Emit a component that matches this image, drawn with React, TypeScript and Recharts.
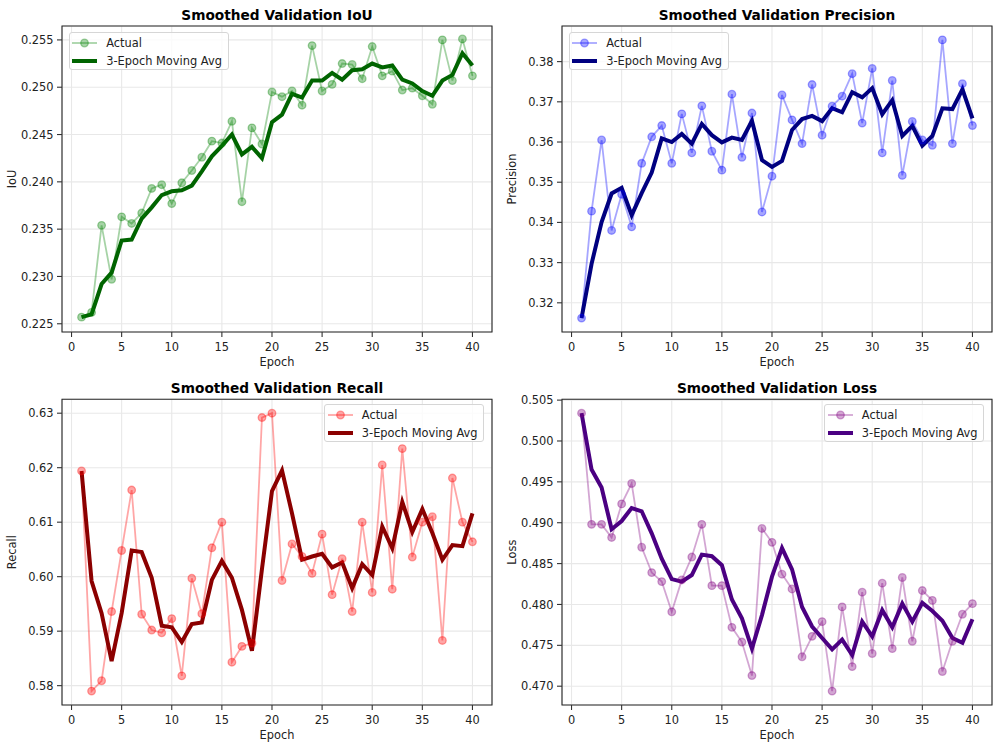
import React from "react";
import { LineChart, Line, XAxis, YAxis, CartesianGrid, ReferenceArea } from "recharts";

const epochs = [1, 2, 3, 4, 5, 6, 7, 8, 9, 10, 11, 12, 13, 14, 15, 16, 17, 18, 19, 20, 21, 22, 23, 24, 25, 26, 27, 28, 29, 30, 31, 32, 33, 34, 35, 36, 37, 38, 39, 40];
const xTicks = [0, 5, 10, 15, 20, 25, 30, 35, 40];

const iouActual = [0.2257, 0.2262, 0.2354, 0.2297, 0.2363, 0.2356, 0.2367, 0.2393, 0.2397, 0.2377, 0.2399, 0.2412, 0.2426, 0.2443, 0.2441, 0.2464, 0.2379, 0.2457, 0.2440, 0.2495, 0.2490, 0.2496, 0.2481, 0.2544, 0.2496, 0.2503, 0.2525, 0.2524, 0.2509, 0.2543, 0.2512, 0.2517, 0.2497, 0.2499, 0.2491, 0.2482, 0.2550, 0.2507, 0.2551, 0.2512];
const iouAvg = [0.2257, 0.2260, 0.2292, 0.2304, 0.2338, 0.2339, 0.2361, 0.2373, 0.2386, 0.2390, 0.2391, 0.2396, 0.2411, 0.2427, 0.2438, 0.2450, 0.2429, 0.2437, 0.2425, 0.2463, 0.2471, 0.2493, 0.2489, 0.2507, 0.2507, 0.2515, 0.2508, 0.2518, 0.2519, 0.2525, 0.2521, 0.2523, 0.2508, 0.2504, 0.2496, 0.2491, 0.2507, 0.2513, 0.2536, 0.2523];
const iouTicks = [0.225, 0.23, 0.235, 0.24, 0.245, 0.25, 0.255];

const precActual = [0.3162, 0.3428, 0.3605, 0.3380, 0.3470, 0.3389, 0.3547, 0.3613, 0.3641, 0.3547, 0.3670, 0.3573, 0.3690, 0.3577, 0.3530, 0.3719, 0.3562, 0.3672, 0.3426, 0.3515, 0.3717, 0.3655, 0.3596, 0.3743, 0.3617, 0.3689, 0.3714, 0.3770, 0.3647, 0.3783, 0.3573, 0.3753, 0.3517, 0.3651, 0.3605, 0.3592, 0.3854, 0.3596, 0.3745, 0.3641];
const precAvg = [0.3162, 0.3297, 0.3401, 0.3472, 0.3486, 0.3418, 0.3473, 0.3524, 0.3609, 0.3600, 0.3620, 0.3596, 0.3645, 0.3617, 0.3599, 0.3611, 0.3605, 0.3653, 0.3555, 0.3538, 0.3553, 0.3630, 0.3657, 0.3665, 0.3652, 0.3684, 0.3674, 0.3724, 0.3711, 0.3734, 0.3669, 0.3704, 0.3615, 0.3640, 0.3591, 0.3615, 0.3684, 0.3682, 0.3731, 0.3659];
const precTicks = [0.32, 0.33, 0.34, 0.35, 0.36, 0.37, 0.38];

const recallActual = [0.6194, 0.5790, 0.5809, 0.5936, 0.6048, 0.6159, 0.5931, 0.5902, 0.5897, 0.5923, 0.5818, 0.5997, 0.5932, 0.6053, 0.6100, 0.5843, 0.5872, 0.5878, 0.6292, 0.6300, 0.5993, 0.6060, 0.6037, 0.6006, 0.6078, 0.5967, 0.6033, 0.5936, 0.6100, 0.5971, 0.6205, 0.5977, 0.6235, 0.6036, 0.6100, 0.6110, 0.5883, 0.6181, 0.6100, 0.6064];
const recallAvg = [0.6194, 0.5992, 0.5933, 0.5845, 0.5933, 0.6048, 0.6045, 0.5998, 0.5910, 0.5907, 0.5880, 0.5913, 0.5916, 0.5994, 0.6029, 0.5998, 0.5939, 0.5864, 0.6014, 0.6157, 0.6195, 0.6116, 0.6031, 0.6037, 0.6042, 0.6017, 0.6026, 0.5979, 0.6023, 0.6003, 0.6092, 0.6052, 0.6137, 0.6082, 0.6124, 0.6080, 0.6031, 0.6058, 0.6056, 0.6116];
const recallTicks = [0.58, 0.59, 0.6, 0.61, 0.62, 0.63];

const lossActual = [0.5034, 0.4898, 0.4898, 0.4882, 0.4923, 0.4948, 0.4870, 0.4839, 0.4828, 0.4791, 0.4830, 0.4858, 0.4898, 0.4823, 0.4823, 0.4772, 0.4754, 0.4713, 0.4893, 0.4876, 0.4837, 0.4819, 0.4736, 0.4761, 0.4779, 0.4694, 0.4797, 0.4724, 0.4815, 0.4740, 0.4826, 0.4746, 0.4833, 0.4755, 0.4817, 0.4805, 0.4718, 0.4755, 0.4788, 0.4801];
const lossAvg = [0.5034, 0.4965, 0.4943, 0.4892, 0.4902, 0.4918, 0.4914, 0.4887, 0.4856, 0.4831, 0.4828, 0.4836, 0.4861, 0.4859, 0.4848, 0.4806, 0.4783, 0.4746, 0.4787, 0.4834, 0.4869, 0.4843, 0.4797, 0.4773, 0.4759, 0.4745, 0.4757, 0.4738, 0.4779, 0.4761, 0.4793, 0.4772, 0.4801, 0.4779, 0.4802, 0.4792, 0.4780, 0.4759, 0.4753, 0.4782];
const lossTicks = [0.47, 0.475, 0.48, 0.485, 0.49, 0.495, 0.5, 0.505];

const FONT = "DejaVu Sans";
const TEXT = "#222";

type PanelProps = {
  left: number;
  top: number;
  title: string;
  yLabel: string;
  actual: number[];
  avg: number[];
  color: string;
  avgColor: string;
  domain: [number, number];
  ticks: number[];
  digits: number;
  legendRight?: boolean;
  marginTop: number;
  axisHeight: number;
};

function Panel(p: PanelProps) {
  const data = epochs.map((e, i) => ({ epoch: e, actual: p.actual[i], avg: p.avg[i] }));
  const alpha = 0.35;
  const legendLeft = p.legendRight ? 324.3 : 68.7;
  const legendTop = p.legendRight ? p.marginTop + 5 : p.marginTop + 6.3;

  return (
    <div style={{ position: "absolute", left: p.left, top: p.top, width: 500, height: 375 }}>
      <div
        style={{
          position: "absolute", left: 62, width: 430, top: p.marginTop - 19, textAlign: "center",
          fontFamily: FONT, fontWeight: "bold", fontSize: 13.7, lineHeight: "16px", color: "#000",
        }}
      >
        {p.title}
      </div>
      <LineChart width={500} height={375} data={data} margin={{ top: p.marginTop, right: 8, bottom: 0, left: 0 }}>
        <CartesianGrid stroke="#e8e8e8" strokeWidth={1.1} />
        <XAxis
          dataKey="epoch" type="number" domain={[-0.95, 41.95]} ticks={xTicks} allowDataOverflow
          height={p.axisHeight} axisLine={false} tickSize={5} tickMargin={5.5}
          tickLine={{ stroke: "#333", strokeWidth: 1.1 }}
          tick={{ fill: TEXT, fontSize: 11.4, fontFamily: FONT }}
          label={{
            content: (props: any) => {
              const vb = props.viewBox;
              return (
                <text x={vb.x + vb.width / 2} y={vb.y + 29.5} textAnchor="middle" dominantBaseline="central"
                  fill={TEXT} fontSize={11.4} fontFamily={FONT}>Epoch</text>
              );
            },
          }}
        />
        <YAxis
          type="number" domain={p.domain} ticks={p.ticks} allowDataOverflow width={62}
          axisLine={false} tickSize={5} tickMargin={3.5}
          tickLine={{ stroke: "#333", strokeWidth: 1.1 }}
          tick={{ fill: TEXT, fontSize: 11.4, fontFamily: FONT }}
          tickFormatter={(v: number) => v.toFixed(p.digits)}
          label={{
            content: (props: any) => {
              const vb = props.viewBox;
              const cy = vb.y + vb.height / 2;
              return (
                <text x={12} y={cy} textAnchor="middle" dominantBaseline="central" transform={`rotate(-90, 12, ${cy})`}
                  fill={TEXT} fontSize={11.4} fontFamily={FONT}>{p.yLabel}</text>
              );
            },
          }}
        />
        <ReferenceArea x1={-0.95} x2={41.95} y1={p.domain[0]} y2={p.domain[1]} fill="none" stroke="#262626" strokeWidth={1.1} ifOverflow="visible" />
        <Line
          dataKey="actual" stroke={p.color} strokeOpacity={alpha} strokeWidth={1.8}
          dot={{ r: 3.8, fill: p.color, fillOpacity: alpha, stroke: p.color, strokeOpacity: alpha, strokeWidth: 1.3 }}
          activeDot={false} isAnimationActive={false}
        />
        <Line dataKey="avg" stroke={p.avgColor} strokeWidth={4} dot={false} activeDot={false} isAnimationActive={false} />
      </LineChart>
      <div
        style={{
          position: "absolute", left: legendLeft, top: legendTop, width: 160, height: 38,
          boxSizing: "border-box", border: "1px solid #d6d6d6", borderRadius: 3,
          background: "rgba(255,255,255,0.8)", padding: "0.5px 0 0 2.5px",
          fontFamily: FONT, fontSize: 11.4, color: TEXT,
        }}
      >
        <div style={{ height: 18, display: "flex", alignItems: "center" }}>
          <svg width={25} height={12} style={{ marginRight: 9 }}>
            <line x1={0} y1={6} x2={25} y2={6} stroke={p.color} strokeOpacity={alpha} strokeWidth={1.8} />
            <circle cx={12.5} cy={6} r={3.8} fill={p.color} fillOpacity={alpha} stroke={p.color} strokeOpacity={alpha} strokeWidth={1.3} />
          </svg>
          <span>Actual</span>
        </div>
        <div style={{ height: 18, display: "flex", alignItems: "center" }}>
          <svg width={25} height={12} style={{ marginRight: 9 }}>
            <line x1={0} y1={6} x2={25} y2={6} stroke={p.avgColor} strokeWidth={4} />
          </svg>
          <span>3-Epoch Moving Avg</span>
        </div>
      </div>
    </div>
  );
}

export default function App() {
  return (
    <div style={{ position: "absolute", left: 0, top: 0, width: 1000, height: 750, background: "#fff" }}>
      <Panel left={0} top={0} title="Smoothed Validation IoU" yLabel="IoU" actual={iouActual} avg={iouAvg}
        color="#008000" avgColor="#006400" domain={[0.22413, 0.25647]} ticks={iouTicks} digits={3}
        marginTop={26} axisHeight={43} />
      <Panel left={500} top={0} title="Smoothed Validation Precision" yLabel="Precision" actual={precActual} avg={precAvg}
        color="#0000ff" avgColor="#000080" domain={[0.31274, 0.38886]} ticks={precTicks} digits={2}
        marginTop={26} axisHeight={43} />
      <Panel left={0} top={375} title="Smoothed Validation Recall" yLabel="Recall" actual={recallActual} avg={recallAvg}
        color="#ff0000" avgColor="#8b0000" domain={[0.57645, 0.63255]} ticks={recallTicks} digits={2}
        marginTop={24.3} axisHeight={45} legendRight />
      <Panel left={500} top={375} title="Smoothed Validation Loss" yLabel="Loss" actual={lossActual} avg={lossAvg}
        color="#800080" avgColor="#4b0082" domain={[0.4677, 0.5051]} ticks={lossTicks} digits={3}
        marginTop={24.3} axisHeight={45} legendRight />
    </div>
  );
}
